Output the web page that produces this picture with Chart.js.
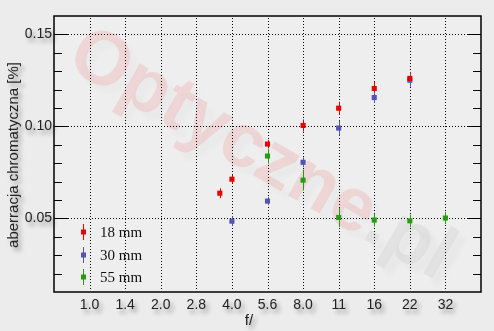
<!DOCTYPE html>
<html>
<head>
<meta charset="utf-8">
<script src="https://cdn.jsdelivr.net/npm/chart.js@4"></script>
<style>
  html, body { margin: 0; padding: 0; background: #ececec; }
  canvas { display: block; }
</style>
</head>
<body>
<canvas id="chart" width="494" height="331"></canvas>
<script>
// f-number labels, one per index on the x axis
const apertureLabels = ['1.0', '1.4', '2.0', '2.8', '4.0', '5.6', '8.0', '11', '16', '22', '32'];
const yTickLabels = ['0.05', '0.10', '0.15'];

// 18 mm (first point is f/3.5, between 2.8 and 4.0)
const x18 = [3.66, 4, 5, 6, 7, 8, 9];
const ca18 = [0.0637, 0.0713, 0.0904, 0.1005, 0.1099, 0.1206, 0.1261];
const err18 = [0.0027, 0.0024, 0.0022, 0.0033, 0.0035, 0.0038, 0.0035];

// 30 mm
const x30 = [4, 5, 6, 7, 8, 9];
const ca30 = [0.0485, 0.0594, 0.0805, 0.0991, 0.1157, 0.1251];
const err30 = [0.0027, 0.0022, 0.0027, 0.0041, 0.0030, 0.0035];

// 55 mm
const x55 = [5, 6, 7, 8, 9, 10];
const ca55 = [0.0839, 0.0708, 0.0505, 0.0491, 0.0487, 0.0502];
const err55 = [0.0041, 0.0057, 0.0052, 0.0035, 0.0033, 0.0033];

const seriesNames = ['18 mm', '30 mm', '55 mm'];
const seriesColors = ['#e80000', '#5454b0', '#279b12'];

function toPoints(xs, ys, errs) {
    return xs.map((x, i) => ({ x: x, y: ys[i], e: errs[i] }));
}

const SANS = '"Liberation Sans", Arial, sans-serif';
const SERIF = '"Liberation Serif", "Times New Roman", serif';

function shadowOn(ctx) {
    ctx.shadowColor = 'rgba(0,0,0,0.38)';
    ctx.shadowBlur = 4;
    ctx.shadowOffsetX = 3;
    ctx.shadowOffsetY = 4;
}

const opticalPlugin = {
    id: 'opticalPlugin',
    beforeDraw(chart) {
        const ctx = chart.ctx;
        const area = chart.chartArea;
        const xs = chart.scales.x;
        const ys = chart.scales.y;

        ctx.save();
        ctx.fillStyle = '#ececec';
        ctx.fillRect(0, 0, chart.width, chart.height);
        ctx.fillStyle = '#eeeeee';
        ctx.fillRect(area.left, area.top, area.right - area.left, area.bottom - area.top);
        ctx.restore();

        // watermark
        ctx.save();
        ctx.beginPath();
        ctx.rect(area.left, area.top, area.right - area.left, area.bottom - area.top);
        ctx.clip();
        ctx.translate(64, 66);
        ctx.rotate(30 * Math.PI / 180);
        ctx.font = 'bold 76px ' + SANS;
        ctx.textBaseline = 'alphabetic';
        ctx.shadowColor = 'rgba(0,0,0,0.09)';
        ctx.shadowBlur = 5;
        ctx.shadowOffsetX = 7;
        ctx.shadowOffsetY = 8;
        ctx.fillStyle = 'rgba(238,120,120,0.20)';
        ctx.fillText('Optyczne', 0, 0);
        const w = ctx.measureText('Optyczne').width;
        ctx.fillStyle = 'rgba(200,200,200,0.30)';
        ctx.fillText('.pl', w, 0);
        ctx.restore();

        // dotted grid
        ctx.save();
        ctx.strokeStyle = '#000';
        ctx.lineWidth = 1;
        ctx.setLineDash([1, 2]);
        apertureLabels.forEach((lab, i) => {
            const px = Math.round(xs.getPixelForValue(i)) + 0.5;
            ctx.beginPath();
            ctx.moveTo(px, area.top + 2);
            ctx.lineTo(px, area.bottom - 2);
            ctx.stroke();
        });
        yTickLabels.forEach((lab) => {
            const py = Math.round(ys.getPixelForValue(parseFloat(lab))) + 0.5;
            ctx.beginPath();
            ctx.moveTo(area.left + 14, py);
            ctx.lineTo(area.right - 14, py);
            ctx.stroke();
        });
        ctx.restore();
    },
    beforeDatasetsDraw(chart) {
        const ctx = chart.ctx;
        const xs = chart.scales.x;
        const ys = chart.scales.y;
        ctx.save();
        ctx.lineWidth = 1;
        chart.data.datasets.forEach((ds) => {
            ctx.strokeStyle = ds.backgroundColor;
            ds.data.forEach((p) => {
                const px = Math.round(xs.getPixelForValue(p.x)) + 0.5;
                ctx.beginPath();
                ctx.moveTo(px, ys.getPixelForValue(p.y + p.e));
                ctx.lineTo(px, ys.getPixelForValue(p.y - p.e));
                ctx.stroke();
            });
        });
        ctx.restore();
    },
    afterDatasetsDraw(chart) {
        const ctx = chart.ctx;
        const area = chart.chartArea;
        const xs = chart.scales.x;
        const ys = chart.scales.y;

        // frame
        ctx.save();
        ctx.strokeStyle = '#000';
        ctx.lineWidth = 1.5;
        ctx.strokeRect(area.left, area.top, area.right - area.left, area.bottom - area.top);

        // y ticks on both sides, minor every 0.01
        ctx.lineWidth = 1;
        for (let k = 2; k <= 15; k++) {
            const v = k / 100;
            const py = Math.round(ys.getPixelForValue(v)) + 0.5;
            const len = (k % 5 === 0) ? 14 : 8;
            ctx.beginPath();
            ctx.moveTo(area.left, py);
            ctx.lineTo(area.left + len, py);
            ctx.moveTo(area.right, py);
            ctx.lineTo(area.right - len, py);
            ctx.stroke();
        }
        ctx.restore();

        // tick labels with drop shadow
        ctx.save();
        shadowOn(ctx);
        ctx.fillStyle = '#222';
        ctx.font = '14px ' + SANS;
        ctx.textAlign = 'right';
        ctx.textBaseline = 'middle';
        yTickLabels.forEach((lab) => {
            ctx.fillText(lab, area.left - 2, ys.getPixelForValue(parseFloat(lab)));
        });
        ctx.textAlign = 'center';
        apertureLabels.forEach((lab, i) => {
            ctx.fillText(lab, xs.getPixelForValue(i), 305);
        });

        // axis titles
        ctx.font = '15px ' + SANS;
        ctx.fillText('f/', 249, 321);
        ctx.save();
        ctx.translate(14, 155);
        ctx.rotate(-Math.PI / 2);
        ctx.fillText('aberracja chromatyczna [%]', 0, 0);
        ctx.restore();
        ctx.restore();

        // legend
        ctx.save();
        const rows = [232, 255, 277];
        chart.data.datasets.forEach((ds, i) => {
            const lx = 83.5;
            const ly = rows[i];
            ctx.strokeStyle = ds.backgroundColor;
            ctx.fillStyle = ds.backgroundColor;
            ctx.lineWidth = 1;
            ctx.beginPath();
            ctx.moveTo(lx, ly - 8);
            ctx.lineTo(lx, ly + 8);
            ctx.stroke();
            ctx.fillRect(lx - 2.5, ly - 2.5, 5, 5);
            ctx.fillStyle = '#111';
            ctx.font = '15px ' + SERIF;
            ctx.textAlign = 'left';
            ctx.textBaseline = 'middle';
            ctx.fillText(seriesNames[i], 100, ly + 1);
        });
        ctx.restore();
    }
};

const ctx = document.getElementById('chart').getContext('2d');
new Chart(ctx, {
    type: 'scatter',
    data: {
        datasets: [
            { label: seriesNames[0], data: toPoints(x18, ca18, err18), backgroundColor: seriesColors[0] },
            { label: seriesNames[1], data: toPoints(x30, ca30, err30), backgroundColor: seriesColors[1] },
            { label: seriesNames[2], data: toPoints(x55, ca55, err55), backgroundColor: seriesColors[2] }
        ]
    },
    options: {
        responsive: false,
        animation: false,
        layout: {
            padding: { left: 54, top: 16, right: 13, bottom: 39 }
        },
        elements: {
            point: {
                pointStyle: 'rect',
                radius: 3.6,
                borderWidth: 0,
                hoverRadius: 3.6
            }
        },
        plugins: {
            legend: { display: false },
            tooltip: { enabled: false }
        },
        scales: {
            x: { type: 'linear', min: -1, max: 11, display: false },
            y: { type: 'linear', min: 0.01, max: 0.16, display: false }
        }
    },
    plugins: [opticalPlugin]
});
</script>
</body>
</html>
